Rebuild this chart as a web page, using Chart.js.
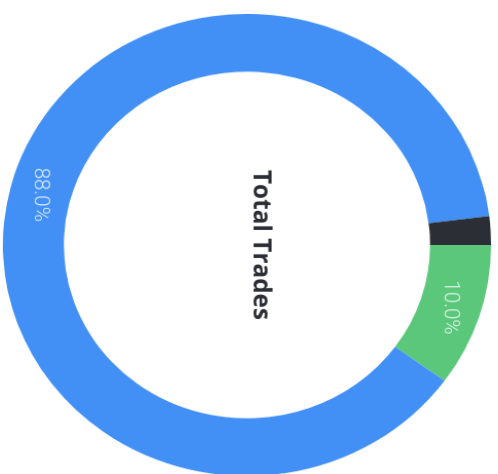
<!DOCTYPE html>
<html>
<head>
<meta charset="utf-8">
<script src="https://cdn.jsdelivr.net/npm/chart.js@4/dist/chart.umd.min.js"></script>
<style>
    html, body { margin: 0; padding: 0; background: #fff; }
    body { width: 498px; height: 474px; overflow: hidden; position: relative; }
    /* the whole chart is turned a quarter clockwise, as in the picture */
    #wrap {
        position: absolute; left: 10px; top: 8px;
        width: 474px; height: 474px;
        transform-origin: 237px 237px;
        transform: scale(1.03, 0.975) rotate(90deg);
    }
    #centerText {
        position: absolute; left: 0; top: 0; width: 474px; height: 474px;
        display: flex; align-items: center; justify-content: center;
        font-family: "Open Sans", sans-serif; font-weight: 700; font-size: 25px;
        color: #2b2e35;
        transform: translateY(-16px);
        pointer-events: none;
    }
</style>
</head>
<body>
<div id="wrap">
    <canvas id="tradesChart" width="474" height="474"></canvas>
    <div id="centerText">Total Trades</div>
</div>
<script>
"use strict";

// Trade outcome shares (percent)
const tradeLabels = ['Winning', 'Losing', 'Break Even'];
const tradeShares = [10, 88, 2];
const tradeColors = ['#5ac77b', '#4290f5', '#2b2e35'];

/**
 * Draw the percentage on each slice that is wide enough
 */
const sliceLabels = {
    id: 'sliceLabels',
    afterDatasetsDraw(chart) {
        const ctx = chart.ctx;
        const meta = chart.getDatasetMeta(0);
        const values = chart.data.datasets[0].data;
        const total = values.reduce((a, b) => a + b, 0);

        ctx.save();
        ctx.font = '300 21px Roboto, sans-serif';
        ctx.fillStyle = 'rgba(255, 255, 255, 0.8)';
        ctx.textAlign = 'center';
        ctx.textBaseline = 'middle';
        meta.data.forEach(function(arc, i) {
            const pct = values[i] / total * 100;
            if (pct < 5) {
                return;
            }
            const pos = arc.getCenterPoint();
            ctx.fillText(pct.toFixed(1) + '%', pos.x, pos.y);
        });
        ctx.restore();
    }
};

new Chart(document.getElementById('tradesChart'), {
    type: 'doughnut',
    data: {
        labels: tradeLabels,
        datasets: [{
            data: tradeShares,
            backgroundColor: tradeColors,
            borderWidth: 0
        }]
    },
    options: {
        responsive: false,
        animation: false,
        cutout: '75%',
        layout: { padding: 0 },
        plugins: {
            legend: { display: false },
            tooltip: { enabled: false }
        }
    },
    plugins: [sliceLabels]
});
</script>
</body>
</html>
